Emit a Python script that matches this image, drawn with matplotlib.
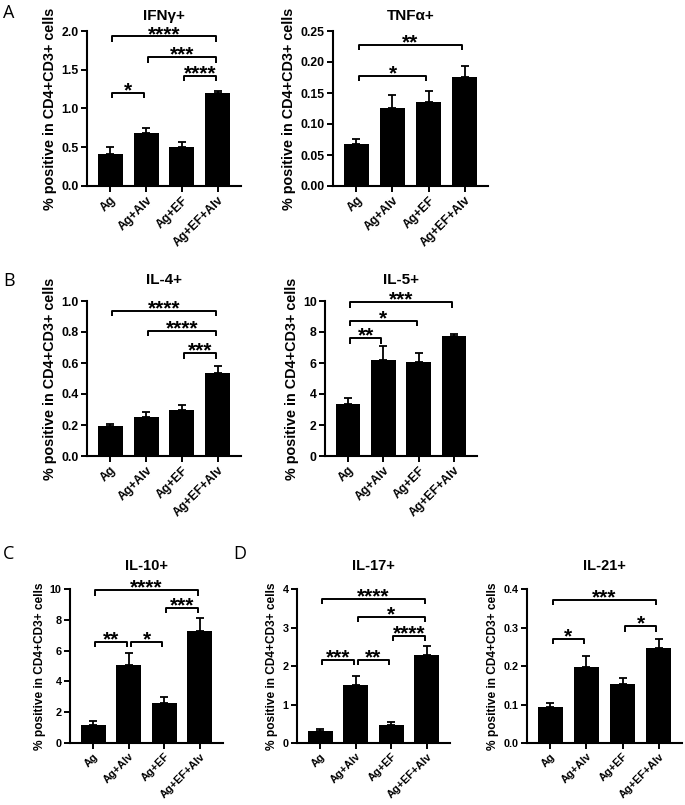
import matplotlib
matplotlib.use('Agg')
import matplotlib.pyplot as plt
import numpy as np

plt.rcParams['font.family'] = ['Liberation Sans', 'DejaVu Sans']
plt.rcParams['font.weight'] = 'bold'

# Dados
grupos = ['Ag', 'Ag+Alv', 'Ag+EF', 'Ag+EF+Alv']

ifng_media = [0.41, 0.68, 0.50, 1.20]
ifng_erro = [0.09, 0.07, 0.07, 0.03]
ifng_sig = [(0, 1, 1.20, '*'), (2, 3, 1.42, '****'), (1, 3, 1.66, '***'), (0, 3, 1.93, '****')]

tnfa_media = [0.068, 0.126, 0.136, 0.176]
tnfa_erro = [0.008, 0.020, 0.018, 0.017]
tnfa_sig = [(0, 2, 0.178, '*'), (0, 3, 0.2275, '**')]

il4_media = [0.193, 0.253, 0.296, 0.533]
il4_erro = [0.015, 0.030, 0.030, 0.049]
il4_sig = [(2, 3, 0.664, '***'), (1, 3, 0.807, '****'), (0, 3, 0.938, '****')]

il5_media = [3.34, 6.17, 6.04, 7.73]
il5_erro = [0.41, 0.90, 0.60, 0.13]
il5_sig = [(0, 1, 7.6, '**'), (0, 2, 8.72, '*'), (0, 3, 9.91, '***')]

il10_media = [1.20, 5.08, 2.58, 7.27]
il10_erro = [0.26, 0.75, 0.39, 0.82]
il10_sig = [(0, 1, 6.58, '**'), (1, 2, 6.58, '*'), (2, 3, 8.77, '***'), (0, 3, 9.91, '****')]

il17_media = [0.30, 1.51, 0.456, 2.28]
il17_erro = [0.07, 0.22, 0.08, 0.25]
il17_sig = [(0, 1, 2.16, '***'), (1, 2, 2.16, '**'), (2, 3, 2.78, '****'),
            (1, 3, 3.28, '*'), (0, 3, 3.75, '****')]

il21_media = [0.0935, 0.1965, 0.152, 0.247]
il21_erro = [0.011, 0.030, 0.018, 0.023]
il21_sig = [(0, 1, 0.271, '*'), (2, 3, 0.303, '*'), (0, 3, 0.372, '***')]

W, H = 685, 805
fig = plt.figure(figsize=(W / 100, H / 100), dpi=100)


def eixo(x0, x1, y0, y1):
    # posicao em pixels -> fracao da figura
    return fig.add_axes([x0 / W, 1 - y1 / H, (x1 - x0) / W, (y1 - y0) / H])


def painel(ax, titulo, media, erro, sig, ymax, passo, fmt, pad_titulo, fs_tick, fs_label, fs_titulo):
    x = np.arange(len(grupos))
    ax.bar(x, media, width=0.7, color='black', zorder=2)
    ax.errorbar(x, media, yerr=[np.zeros(len(erro)), erro], fmt='none', ecolor='black',
                elinewidth=1.3, capsize=3.2, capthick=1.3, zorder=1)
    ax.set_xlim(-0.65, 3.65)
    ax.set_ylim(0, ymax)
    ax.set_yticks(np.arange(0, ymax + passo / 2, passo))
    ax.set_yticklabels([fmt % v for v in np.arange(0, ymax + passo / 2, passo)])
    ax.set_xticks(x)
    ax.set_xticklabels(grupos, rotation=45, ha='right', va='top', rotation_mode='anchor')
    ax.tick_params(axis='both', width=1.4, length=4, labelsize=fs_tick, pad=2)
    for s in ['top', 'right']:
        ax.spines[s].set_visible(False)
    for s in ['left', 'bottom']:
        ax.spines[s].set_linewidth(1.5)
    ax.set_ylabel('% positive in CD4+CD3+ cells', fontsize=fs_label, fontweight='bold', labelpad=3)
    ax.set_title(titulo, fontsize=fs_titulo, fontweight='bold', pad=pad_titulo)
    queda = 0.035 * ymax
    for i, j, y, txt in sig:
        a, b = i + 0.06, j - 0.06
        ax.plot([a, a, b, b], [y - queda, y, y, y - queda], color='black', lw=1.4,
                clip_on=False, solid_capstyle='butt')
        ax.annotate(txt, xy=((i + j) / 2, y), xytext=(0, -2.5), textcoords='offset points',
                    ha='center', va='baseline', fontsize=15, fontweight='bold')


ax1 = eixo(87, 241, 31, 186)
painel(ax1, 'IFNγ+', ifng_media, ifng_erro, ifng_sig, 2.0, 0.5, '%.1f', 8, 8.8, 10.4, 11)
ax2 = eixo(333, 488, 31, 186)
painel(ax2, 'TNFα+', tnfa_media, tnfa_erro, tnfa_sig, 0.25, 0.05, '%.2f', 8, 8.8, 10.4, 11)
ax3 = eixo(87, 241, 301, 456)
painel(ax3, 'IL-4+', il4_media, il4_erro, il4_sig, 1.0, 0.2, '%.1f', 12, 8.8, 10.4, 11)
ax4 = eixo(325, 477, 301, 456)
painel(ax4, 'IL-5+', il5_media, il5_erro, il5_sig, 10, 2, '%d', 12, 8.8, 10.4, 11)
ax5 = eixo(70, 223, 589, 743)
painel(ax5, 'IL-10+', il10_media, il10_erro, il10_sig, 10, 2, '%d', 14, 7.8, 8.6, 10.5)
ax6 = eixo(297, 450, 589, 743)
painel(ax6, 'IL-17+', il17_media, il17_erro, il17_sig, 4, 1, '%d', 14, 7.8, 8.6, 10.5)
ax7 = eixo(527, 682, 589, 743)
painel(ax7, 'IL-21+', il21_media, il21_erro, il21_sig, 0.4, 0.1, '%.1f', 14, 7.8, 8.6, 10.5)

# Letras dos paineis
for letra, px, py in [('A', 3, 18), ('B', 3, 286), ('C', 3, 559), ('D', 233, 559)]:
    fig.text(px / W, 1 - py / H, letra, fontsize=13, fontweight='normal',
             family=['Open Sans', 'DejaVu Sans'], va='baseline')

fig.savefig('out.png', dpi=100)
